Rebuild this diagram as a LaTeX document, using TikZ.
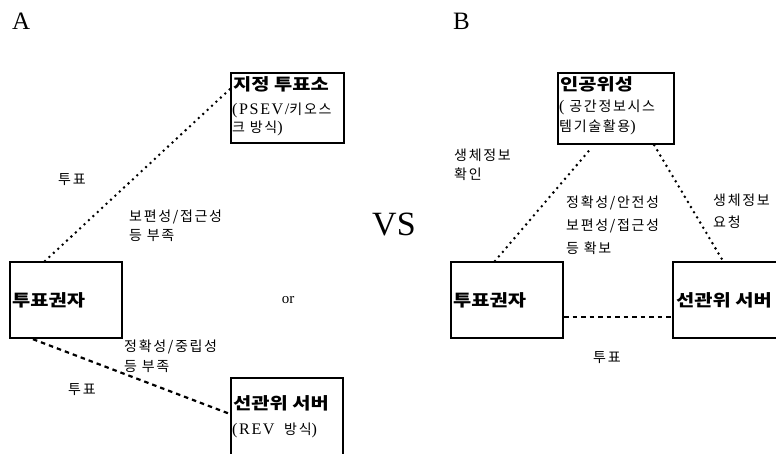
\documentclass[tikz,border=0pt]{standalone}
\usepackage{fontspec}
\setmainfont{Liberation Serif}
\newfontfamily\krs[LetterSpace=12]{Noto Sans CJK KR}
\newfontfamily\lats[Scale=1.15,LetterSpace=10]{Liberation Serif}
\newfontfamily\krb[FakeStretch=1.2]{Noto Sans CJK KR}
\tikzset{
  box/.style={draw, line width=2.2pt, inner sep=0pt},
  ttl/.style={anchor=west, inner sep=0pt, font=\krb\bfseries\fontsize{16.5}{18}\selectfont},
  sml/.style={anchor=west, inner sep=0pt, font=\krs\fontsize{14}{15}\selectfont},
  dotline/.style={line width=2.8pt, line cap=round, dash pattern=on 0pt off 6pt},
  dashline/.style={line width=2.2pt, dash pattern=on 4.5pt off 4pt},
}
\begin{document}
\begin{tikzpicture}[x=1pt,y=-1pt]
\useasboundingbox (0,0) rectangle (776,454);
\clip (0,0) rectangle (776,454);
% headings
\node[anchor=base west, inner sep=0pt, font=\fontsize{25}{28}\selectfont] (hA) at (12,30) {A};
\node[anchor=base west, inner sep=0pt, font=\fontsize{25}{28}\selectfont] (hB) at (453,30) {B};
\node[anchor=base west, inner sep=0pt, font=\fontsize{34}{38}\selectfont] (vs) at (372,236) {VS};
\node[inner sep=0pt, font=\fontsize{15}{18}\selectfont] (or) at (288,300) {or};
% ---------- A ----------
\node[box, minimum width=112pt, minimum height=76pt, anchor=north west] (av) at (9,261) {};
\node[box, minimum width=113pt, minimum height=70pt, anchor=north west] (at) at (230,72) {};
\node[box, minimum width=112pt, minimum height=100pt, anchor=north west] (as) at (230,377) {};
\node[ttl] (avt) at (12,300) {투표권자};
\node[ttl] (att) at (233,84) {지정 투표소};
\node[sml] (at1) at (232,110) {{\lats (PSEV/}키오스};
\node[sml] (at2) at (232,128) {크 방식{\lats )}};
\node[ttl] (ast) at (233,403) {선관위 서버};
\node[sml] (as1) at (232,430) {{\lats (REV}\ \ 방식{\lats )}};
\draw[dotline] ([xshift=36pt]av.north west) -- ([yshift=-17pt]at.north west);
\draw[dashline] ([xshift=24pt]av.south west) -- ([yshift=-37pt]as.north west);
\node[sml] (a1) at (58,180) {투표};
\node[sml] (a2) at (129,217) {보편성/접근성};
\node[sml] (a3) at (129,236) {등 부족};
\node[sml] (a4) at (124,347) {정확성/중립성};
\node[sml] (a5) at (124,367) {등 부족};
\node[sml] (a6) at (68,390) {투표};
% ---------- B ----------
\node[box, minimum width=116pt, minimum height=71pt, anchor=north west] (bs) at (557,72) {};
\node[box, minimum width=112pt, minimum height=76pt, anchor=north west] (bv) at (450,261) {};
\node[box, minimum width=130pt, minimum height=76pt, anchor=north west] (bsv) at (672,261) {};
\node[ttl] (bst) at (560,84) {인공위성};
\node[sml] (bs1) at (559,107) {{\lats (} 공간정보시스};
\node[sml] (bs2) at (559,127) {템기술활용{\lats )}};
\node[ttl] (bvt) at (453,300) {투표권자};
\node[ttl] (bsvt) at (676,300) {선관위 서버};
\draw[dotline] ([xshift=45pt]bv.north west) -- ([xshift=35pt,yshift=-2pt]bs.south west);
\draw[dotline] ([xshift=-21pt]bs.south east) -- ([xshift=51pt]bsv.north west);
\draw[dashline] ([yshift=22pt]bv.south east) -- ([yshift=22pt]bsv.south west);
\node[sml] (b1) at (454,155) {생체정보};
\node[sml] (b2) at (454,174) {확인};
\node[sml] (b3) at (566,203) {정확성/안전성};
\node[sml] (b4) at (566,226) {보편성/접근성};
\node[sml] (b5) at (566,248) {등 확보};
\node[sml] (b6) at (713,200) {생체정보};
\node[sml] (b7) at (713,222) {요청};
\node[sml] (b8) at (593,358) {투표};
\end{tikzpicture}
\end{document}
